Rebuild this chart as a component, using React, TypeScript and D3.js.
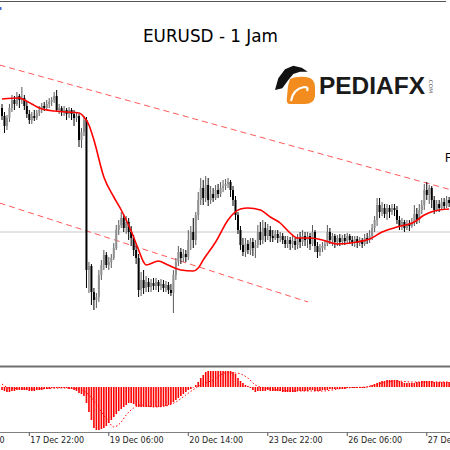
import React from 'react';
import * as d3 from 'd3';

// Hourly EURUSD candles (bar index 0..180)
const OPEN = [
1.0524,1.0516,1.0506,1.0514,1.0524,1.0532,1.0528,1.0536,1.0532,1.0534,
1.0526,1.0518,1.0512,1.0516,1.0514,1.0519,1.0522,1.0526,1.0524,1.0528,
1.0530,1.0532,1.0536,1.0522,1.0524,1.0520,1.0522,1.0518,1.0522,1.0518,
1.0514,1.0516,1.0492,1.0500,1.0512,1.0362,1.0366,1.0340,1.0332,1.0335,
1.0357,1.0367,1.0377,1.0367,1.0370,1.0374,1.0384,1.0402,1.0407,1.0414,
1.0404,1.0410,1.0400,1.0394,1.0382,1.0374,1.0342,1.0352,1.0344,1.0350,
1.0345,1.0349,1.0346,1.0350,1.0346,1.0348,1.0344,1.0347,1.0342,1.0339,
1.0357,1.0370,1.0380,1.0374,1.0378,1.0375,1.0392,1.0400,1.0392,1.0417,
1.0432,1.0444,1.0434,1.0447,1.0432,1.0438,1.0434,1.0442,1.0438,1.0444,
1.0446,1.0448,1.0450,1.0442,1.0432,1.0417,1.0402,1.0387,1.0380,1.0388,
1.0382,1.0390,1.0384,1.0387,1.0400,1.0392,1.0404,1.0396,1.0402,1.0396,
1.0394,1.0398,1.0394,1.0396,1.0392,1.0388,1.0392,1.0388,1.0391,1.0387,
1.0394,1.0390,1.0396,1.0392,1.0396,1.0388,1.0400,1.0386,1.0380,1.0384,
1.0386,1.0388,1.0400,1.0392,1.0396,1.0390,1.0394,1.0390,1.0394,1.0391,
1.0396,1.0392,1.0390,1.0393,1.0389,1.0392,1.0388,1.0394,1.0392,1.0396,
1.0404,1.0412,1.0427,1.0420,1.0424,1.0418,1.0424,1.0420,1.0424,1.0422,
1.0412,1.0406,1.0410,1.0404,1.0408,1.0406,1.0410,1.0418,1.0412,1.0422,
1.0427,1.0442,1.0437,1.0444,1.0432,1.0422,1.0428,1.0424,1.0430,1.0426,
1.0432];
const CLOSE = [
1.0516,1.0506,1.0514,1.0524,1.0532,1.0528,1.0536,1.0532,1.0534,1.0526,
1.0518,1.0512,1.0516,1.0514,1.0519,1.0522,1.0526,1.0524,1.0528,1.0530,
1.0532,1.0536,1.0522,1.0524,1.0520,1.0522,1.0518,1.0522,1.0518,1.0514,
1.0516,1.0492,1.0500,1.0512,1.0362,1.0366,1.0340,1.0332,1.0335,1.0357,
1.0367,1.0377,1.0367,1.0370,1.0374,1.0384,1.0402,1.0407,1.0414,1.0404,
1.0410,1.0400,1.0394,1.0382,1.0374,1.0342,1.0352,1.0344,1.0350,1.0345,
1.0349,1.0346,1.0350,1.0346,1.0348,1.0344,1.0347,1.0342,1.0339,1.0357,
1.0370,1.0380,1.0374,1.0378,1.0375,1.0392,1.0400,1.0392,1.0417,1.0432,
1.0444,1.0434,1.0447,1.0432,1.0438,1.0434,1.0442,1.0438,1.0444,1.0446,
1.0448,1.0450,1.0442,1.0432,1.0417,1.0402,1.0387,1.0380,1.0388,1.0382,
1.0390,1.0384,1.0387,1.0400,1.0392,1.0404,1.0396,1.0402,1.0396,1.0394,
1.0398,1.0394,1.0396,1.0392,1.0388,1.0392,1.0388,1.0391,1.0387,1.0394,
1.0390,1.0396,1.0392,1.0396,1.0388,1.0400,1.0386,1.0380,1.0384,1.0386,
1.0388,1.0400,1.0392,1.0396,1.0390,1.0394,1.0390,1.0394,1.0391,1.0396,
1.0392,1.0390,1.0393,1.0389,1.0392,1.0388,1.0394,1.0392,1.0396,1.0404,
1.0412,1.0427,1.0420,1.0424,1.0418,1.0424,1.0420,1.0424,1.0422,1.0412,
1.0406,1.0410,1.0404,1.0408,1.0406,1.0410,1.0418,1.0412,1.0422,1.0427,
1.0442,1.0437,1.0444,1.0432,1.0422,1.0428,1.0424,1.0430,1.0426,1.0432,
1.0429];
const HIGH = [
1.0528,1.0520,1.0517,1.0528,1.0537,1.0536,1.0540,1.0538,1.0545,1.0537,
1.0530,1.0522,1.0520,1.0522,1.0522,1.0526,1.0529,1.0530,1.0532,1.0534,
1.0535,1.0540,1.0542,1.0528,1.0526,1.0526,1.0524,1.0525,1.0524,1.0522,
1.0520,1.0518,1.0504,1.0516,1.0515,1.0370,1.0368,1.0344,1.0339,1.0362,
1.0372,1.0382,1.0380,1.0375,1.0378,1.0389,1.0407,1.0412,1.0420,1.0418,
1.0416,1.0414,1.0406,1.0397,1.0388,1.0378,1.0360,1.0362,1.0356,1.0354,
1.0353,1.0354,1.0354,1.0352,1.0353,1.0352,1.0351,1.0350,1.0348,1.0362,
1.0374,1.0386,1.0384,1.0383,1.0382,1.0402,1.0406,1.0414,1.0420,1.0440,
1.0454,1.0452,1.0456,1.0454,1.0446,1.0444,1.0447,1.0448,1.0450,1.0452,
1.0453,1.0454,1.0452,1.0446,1.0436,1.0420,1.0406,1.0394,1.0394,1.0392,
1.0394,1.0394,1.0392,1.0407,1.0410,1.0412,1.0410,1.0408,1.0406,1.0402,
1.0402,1.0402,1.0400,1.0399,1.0396,1.0396,1.0395,1.0396,1.0394,1.0398,
1.0400,1.0402,1.0400,1.0400,1.0399,1.0407,1.0402,1.0390,1.0388,1.0390,
1.0392,1.0407,1.0404,1.0399,1.0398,1.0397,1.0398,1.0397,1.0398,1.0399,
1.0398,1.0396,1.0396,1.0396,1.0395,1.0394,1.0398,1.0399,1.0402,1.0408,
1.0416,1.0434,1.0434,1.0430,1.0428,1.0428,1.0427,1.0428,1.0428,1.0426,
1.0416,1.0414,1.0412,1.0412,1.0412,1.0414,1.0427,1.0424,1.0428,1.0432,
1.0448,1.0450,1.0447,1.0446,1.0436,1.0432,1.0432,1.0434,1.0434,1.0436,
1.0435];
const LOW = [
1.0512,1.0499,1.0502,1.0510,1.0520,1.0522,1.0526,1.0524,1.0528,1.0522,
1.0514,1.0508,1.0508,1.0511,1.0512,1.0516,1.0519,1.0521,1.0522,1.0524,
1.0526,1.0529,1.0520,1.0518,1.0516,1.0516,1.0512,1.0514,1.0512,1.0506,
1.0510,1.0485,1.0484,1.0496,1.0344,1.0339,1.0327,1.0322,1.0324,1.0330,
1.0352,1.0362,1.0364,1.0362,1.0364,1.0372,1.0382,1.0397,1.0404,1.0400,
1.0398,1.0392,1.0386,1.0376,1.0368,1.0335,1.0336,1.0338,1.0340,1.0340,
1.0340,1.0342,1.0342,1.0340,1.0342,1.0340,1.0340,1.0338,1.0336,1.0319,
1.0352,1.0366,1.0368,1.0370,1.0370,1.0372,1.0382,1.0384,1.0387,1.0412,
1.0427,1.0427,1.0430,1.0426,1.0428,1.0430,1.0432,1.0434,1.0435,1.0440,
1.0442,1.0444,1.0435,1.0426,1.0412,1.0398,1.0382,1.0376,1.0375,1.0378,
1.0377,1.0376,1.0374,1.0384,1.0387,1.0388,1.0390,1.0392,1.0390,1.0390,
1.0392,1.0389,1.0390,1.0388,1.0384,1.0384,1.0382,1.0384,1.0382,1.0383,
1.0384,1.0386,1.0386,1.0384,1.0382,1.0386,1.0380,1.0374,1.0376,1.0380,
1.0382,1.0386,1.0388,1.0386,1.0384,1.0386,1.0386,1.0387,1.0387,1.0388,
1.0388,1.0386,1.0385,1.0384,1.0386,1.0384,1.0386,1.0388,1.0389,1.0392,
1.0400,1.0406,1.0414,1.0416,1.0414,1.0412,1.0414,1.0417,1.0416,1.0408,
1.0402,1.0402,1.0400,1.0402,1.0401,1.0404,1.0406,1.0408,1.0409,1.0418,
1.0422,1.0432,1.0428,1.0424,1.0418,1.0420,1.0420,1.0422,1.0422,1.0424,
1.0425];

// Moving average (read at sample bars)
const MA_INDEX = [0,7,9,12,15,21,26,31,33,35,37,41,45,48,52,55,57,58,63,66,72,77,79,81,86,91,93,96,99,104,108,112,116,119,124,129,135,143,148,153,159,166,170,174,180];
const MA_VALUE = [1.0533,1.0534,1.0532,1.0528,1.0524,1.0521,1.0520,1.0519,1.0515,1.0507,1.0492,1.0455,1.0435,1.0422,1.0401,1.0382,1.0370,1.0367,1.0371,1.0368,1.0362,1.0361,1.0364,1.0372,1.0390,1.0412,1.0418,1.0423,1.0424,1.0422,1.0415,1.0409,1.0399,1.0394,1.0394,1.0392,1.0388,1.0390,1.0393,1.0400,1.0405,1.0410,1.0417,1.0421,1.0423];

// MACD histogram per bar
const HIST = [
-0.0003,-0.0004,-0.0005,-0.0005,-0.0004,-0.0004,-0.0003,-0.0003,-0.0003,-0.0003,
-0.0003,-0.0004,-0.0004,-0.0004,-0.0003,-0.0003,-0.0003,-0.0002,-0.0002,-0.0002,
-0.0001,-0.0001,-0.0001,-0.0001,-0.0001,-0.0001,-0.0001,-0.0002,-0.0002,-0.0003,
-0.0004,-0.0006,-0.0007,-0.0009,-0.0016,-0.0025,-0.0033,-0.0041,-0.0043,-0.0043,
-0.0042,-0.0041,-0.0039,-0.0036,-0.0033,-0.0030,-0.0027,-0.0024,-0.0022,-0.0020,
-0.0018,-0.0016,-0.0016,-0.0017,-0.0019,-0.0020,-0.0020,-0.0020,-0.0020,-0.0020,
-0.0020,-0.0020,-0.0020,-0.0020,-0.0020,-0.0019,-0.0019,-0.0018,-0.0017,-0.0015,
-0.0013,-0.0011,-0.0009,-0.0007,-0.0005,-0.0003,-0.0002,0,0.0002,0.0005,
0.0009,0.0012,0.0015,0.0016,0.0016,0.0016,0.0016,0.0016,0.0016,0.0016,
0.0016,0.0016,0.0016,0.0015,0.0013,0.0009,0.0006,0.0004,0.0002,0.0001,
-0.0001,-0.0003,-0.0005,-0.0004,-0.0004,-0.0004,-0.0004,-0.0003,-0.0004,-0.0004,
-0.0004,-0.0004,-0.0004,-0.0005,-0.0005,-0.0005,-0.0005,-0.0005,-0.0005,-0.0004,
-0.0004,-0.0004,-0.0004,-0.0004,-0.0003,-0.0003,-0.0004,-0.0004,-0.0004,-0.0003,
-0.0003,-0.0003,-0.0002,-0.0002,-0.0002,-0.0002,-0.0002,-0.0002,-0.0002,-0.0001,
-0.0001,-0.0001,-0.0001,-0.0001,-0.0001,-0.0001,-0.0001,0,0.0001,0.0002,
0.0003,0.0004,0.0005,0.0006,0.0006,0.0007,0.0007,0.0007,0.0007,0.0007,
0.0006,0.0005,0.0004,0.0004,0.0004,0.0004,0.0004,0.0005,0.0005,0.0006,
0.0006,0.0006,0.0006,0.0006,0.0005,0.0005,0.0005,0.0005,0.0005,0.0005,
0.0005];

// MACD signal line (read at sample bars)
const SIG_INDEX = [0,3,12,24,31,35,39,43,45,48,50,53,56,61,66,70,74,78,80,85,90,94,99,102,106,117,129,138,146,153,159,165,170,180];
const SIG_VALUE = [0.0003,-0.0001,-0.0002,-0.0001,-0.0002,-0.0008,-0.0021,-0.0035,-0.0040,-0.0035,-0.0028,-0.0021,-0.0018,-0.0020,-0.0019,-0.0015,-0.0008,-0.0001,0.0002,0.0007,0.0014,0.0014,0.0009,0.0002,-0.0001,-0.0004,-0.0004,-0.0001,0,0.0004,0.0006,0.0005,0.0005,0.0005];

// Time axis
const TICK_INDEX = [-21, 11, 43, 75, 107, 139, 171];
const TICK_LABELS = ['16 Dec 14:00', '17 Dec 22:00', '19 Dec 06:00', '20 Dec 14:00', '23 Dec 22:00', '26 Dec 06:00', '27 Dec 14:00'];

// Trendlines: [startIndex, startPrice, endIndex, endPrice]
const TREND_UPPER = [-1, 1.0567, 181, 1.0442];
const TREND_LOWER = [-1, 1.0429, 123.2, 1.0330];
const LEVEL = 1.04;

export default function App() {
  const W = 450, H = 450;
  const x = d3.scaleLinear().domain([0, 180]).range([2, 2 + 2.484 * 180]);
  const y = d3.scaleLinear().domain([1.0266, 1.0632]).range([366, 0]);
  const ym = d3.scaleLinear().domain([-0.0045, 0.002]).range([432, 367]);

  const maLine = d3.line<number>()
    .x((_, k) => x(MA_INDEX[k]))
    .y((v) => y(v))
    .curve(d3.curveMonotoneX)(MA_VALUE) || '';
  const sigLine = d3.line<number>()
    .x((_, k) => x(SIG_INDEX[k]))
    .y((v) => ym(v))
    .curve(d3.curveMonotoneX)(SIG_VALUE) || '';

  const candles = OPEN.map((o, i) => {
    const c = CLOSE[i];
    const bull = c >= o;
    const cx = x(i);
    const top = y(Math.max(o, c));
    const bot = y(Math.min(o, c));
    return (
      <g key={i}>
        <line x1={cx} x2={cx} y1={y(HIGH[i])} y2={y(LOW[i])} stroke={bull ? '#5a5a5a' : '#000'} strokeWidth={1} />
        <rect x={cx - 1} y={top} width={2} height={Math.max(1, bot - top)} fill={bull ? '#8f8f8f' : '#000'} />
      </g>
    );
  });

  const hist = HIST.map((v, i) => {
    const y0 = ym(0), y1 = ym(v);
    return <rect key={i} x={x(i) - 0.8} y={Math.min(y0, y1)} width={1.6} height={Math.max(0.5, Math.abs(y1 - y0))} fill="#ff0000" />;
  });

  return (
    <svg width={W} height={H} style={{ position: 'absolute', left: 0, top: 0, background: '#fff' }}>
      <defs>
        <clipPath id="main"><rect x={0} y={3} width={W} height={363} /></clipPath>
        <clipPath id="ind"><rect x={0} y={368} width={W} height={64} /></clipPath>
      </defs>
      <rect x={0} y={0} width={W} height={H} fill="#fff" />
      {/* top border */}
      <line x1={0} x2={446} y1={1.5} y2={1.5} stroke="#555" strokeWidth={1} />
      <rect x={0} y={7} width={1.5} height={3} fill="#3a6fd8" />

      <g clipPath="url(#main)">
        <line x1={0} x2={W} y1={y(LEVEL)} y2={y(LEVEL)} stroke="#c8c8c8" strokeWidth={1} />
        <line x1={x(TREND_UPPER[0])} y1={y(TREND_UPPER[1])} x2={x(TREND_UPPER[2])} y2={y(TREND_UPPER[3])} stroke="#ff5a5a" strokeWidth={1} strokeDasharray="6,4" />
        <line x1={x(TREND_LOWER[0])} y1={y(TREND_LOWER[1])} x2={x(TREND_LOWER[2])} y2={y(TREND_LOWER[3])} stroke="#ff5a5a" strokeWidth={1} strokeDasharray="6,4" />
        {candles}
        <path d={maLine} fill="none" stroke="#ff0000" strokeWidth={1.6} />
      </g>

      {/* title */}
      <text x={143} y={42} fontFamily="'Comic Sans MS', 'DejaVu Sans', sans-serif" fontSize={17.5} fill="#000" textLength={135} lengthAdjust="spacingAndGlyphs">EURUSD - 1 Jam</text>

      {/* logo */}
      <g>
        <path d="M290,79 Q296,76 306,77 Q315,78 315,87 L315,96 Q314,104 305,104 L289,104 Q286,103 287,97 L288,86 Z" fill="#f28c1e" />
        <path d="M291,101 Q293,89 304,87 Q309,87 307,91" fill="none" stroke="#fff" strokeWidth={2.2} />
        <path d="M275,90 L278.3,78.3 L285,69.3 L293.3,65.7 L301.7,67.7 L307.7,71.7 L300,71.7 L293.3,74 L288.3,80 L282.3,88.3 Z" fill="#111" />
        <text x={319} y={94} fontFamily="'Liberation Sans', Arial, sans-serif" fontWeight="bold" fontSize={23} fill="#1a1a1a" textLength={106} lengthAdjust="spacingAndGlyphs">PEDIAFX</text>
        <text transform="translate(428.5,78) rotate(90)" fontFamily="'DejaVu Sans', sans-serif" fontSize={5} fill="#555" textLength={15} lengthAdjust="spacingAndGlyphs">.COM</text>
      </g>

      <text x={445} y={162} fontFamily="'Liberation Sans', Arial, sans-serif" fontSize={12} fill="#000">F</text>

      {/* separator */}
      <line x1={0} x2={W} y1={366.5} y2={366.5} stroke="#6e6e6e" strokeWidth={2} />

      <g clipPath="url(#ind)">
        {hist}
        <path d={sigLine} fill="none" stroke="#ff0000" strokeWidth={1} strokeDasharray="1.5,2" />
      </g>

      {/* time axis */}
      <line x1={0} x2={W} y1={432.5} y2={432.5} stroke="#808080" strokeWidth={1} />
      {TICK_INDEX.map((t, k) => (
        <g key={k}>
          <line x1={x(t)} x2={x(t)} y1={432.5} y2={436} stroke="#555" strokeWidth={1} />
          <text x={x(t) + 1} y={443} fontFamily="'DejaVu Sans', sans-serif" fontSize={8} fill="#222">{TICK_LABELS[k]}</text>
        </g>
      ))}
    </svg>
  );
}
